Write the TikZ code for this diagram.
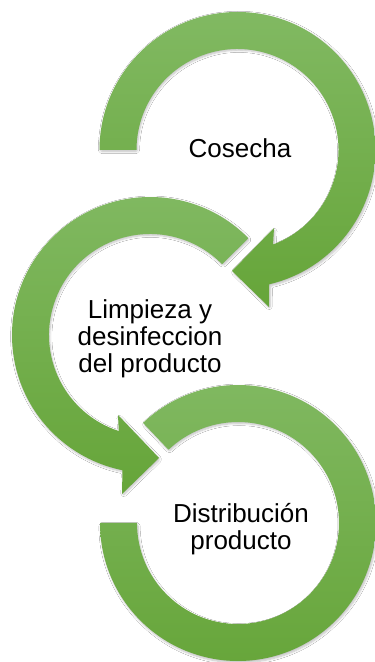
\documentclass[tikz,border=0pt]{standalone}
\usepackage{fontspec}
\setmainfont{Liberation Sans}
\usetikzlibrary{shadows.blur}
\definecolor{gtop}{RGB}{129,185,98}
\definecolor{gbot}{RGB}{102,165,57}
\tikzset{
  ringarrow/.style={top color=gtop, bottom color=gbot, draw=none,
    blur shadow={shadow xshift=1pt, shadow yshift=-1.5pt, shadow blur steps=6,
      shadow blur extra rounding=1.5pt, shadow opacity=25}},
  steplabel/.style={font=\fontsize{26}{27}\selectfont, align=center, text=black, inner sep=0pt}
}
\begin{document}
\begin{tikzpicture}[x=1pt,y=1pt]
\useasboundingbox (0,0) rectangle (375,662);
\fill[white] (0,0) rectangle (375,662);
\coordinate (c1) at (237.5,512);
\coordinate (c2) at (150,327);
\coordinate (c3) at (238,139);
% arrow 1 (clockwise, top)
\path[ringarrow] ([shift={(180:138)}]c1) arc[start angle=180, end angle=-76.7, radius=138]
  -- (269,355) -- (232,391) -- (274,434)
  -- ([shift={(-69.4:101)}]c1) arc[start angle=-69.4, end angle=180, radius=101] -- cycle;
% arrow 2 (counterclockwise, middle)
\path[ringarrow] ([shift={(44.5:138)}]c2) arc[start angle=44.5, end angle=258.5, radius=138]
  -- (122,168) -- (159,204) -- (118,247)
  -- ([shift={(252:101)}]c2) arc[start angle=252, end angle=44.5, radius=101] -- cycle;
% arrow 3 (clockwise ring, bottom)
\path[ringarrow] ([shift={(133.5:138)}]c3) arc[start angle=133.5, end angle=-180, radius=138]
  -- ([shift={(180:101)}]c3) arc[start angle=-180, end angle=133.5, radius=101] -- cycle;
\node[steplabel] (cosecha) at (240,513.3) {Cosecha};
\node[steplabel] (limpieza) at (150,323.6) {Limpieza y\\desinfeccion\\del producto};
\node[steplabel] (distrib) at (241,133) {Distribución\\producto};
\end{tikzpicture}
\end{document}
